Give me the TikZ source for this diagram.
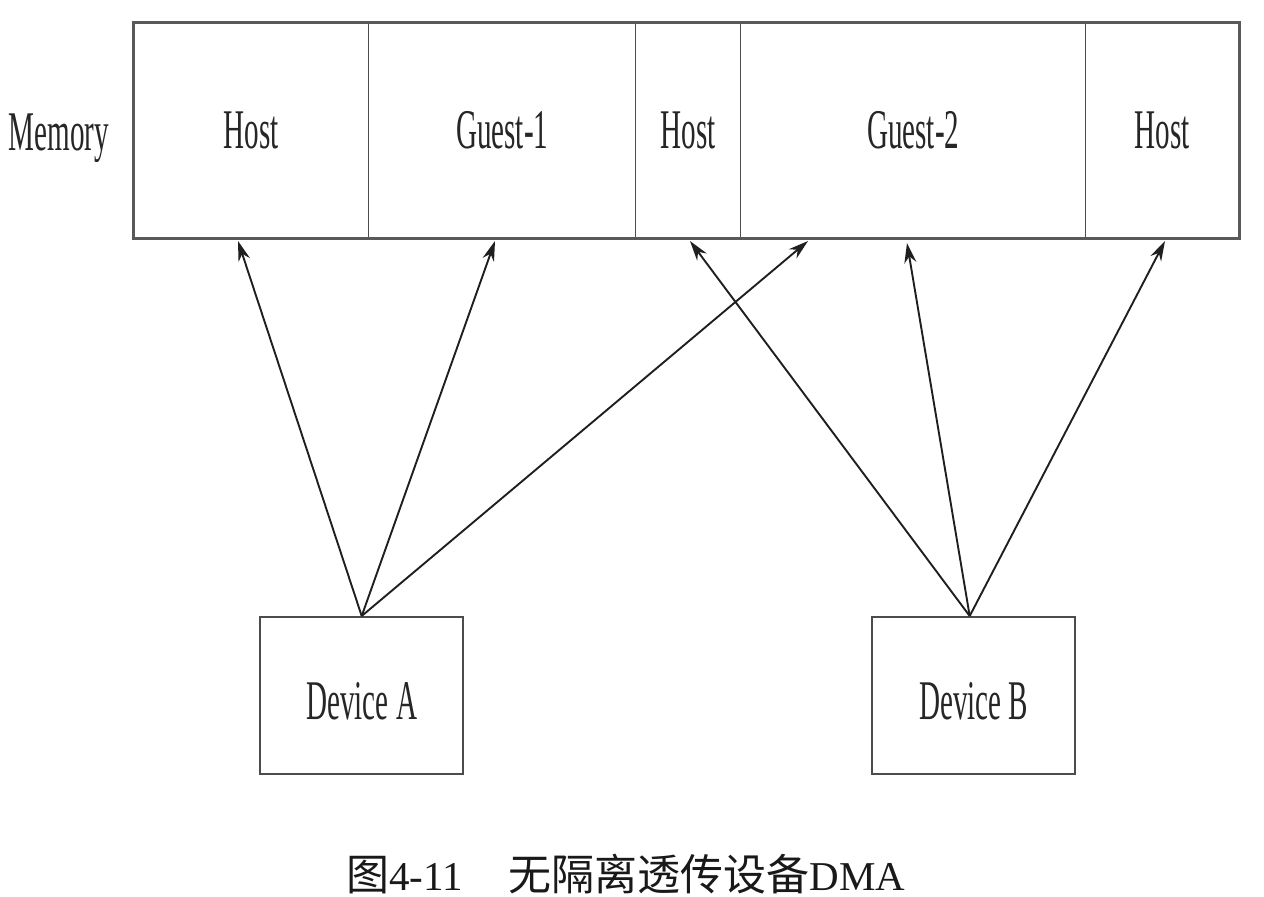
\documentclass[tikz,border=0pt]{standalone}
\usepackage{fontspec}
\setmainfont{Liberation Serif}
\newfontfamily\cjk{Noto Sans CJK SC}
\usetikzlibrary{arrows.meta,calc}
\newcommand{\narrow}[1]{\scalebox{0.52}[1]{#1}}
\newcommand{\cjkt}[1]{{\cjk\fontsize{43}{45}\selectfont #1}}
\tikzset{
  cell/.style={draw=black!70, line width=1.4pt, minimum height=215pt, inner sep=0pt, anchor=north west,
               font=\fontsize{56}{60}\selectfont, text=black!85},
  lbl/.style={font=\fontsize{56}{60}\selectfont, text=black!85, inner sep=0pt},
  device/.style={draw=black!70, line width=2.4pt, minimum width=203pt, minimum height=157pt, inner sep=0pt, anchor=north west,
               font=\fontsize{56}{60}\selectfont, text=black!85, text height=38pt, text depth=0pt},
  dma/.style={-{Stealth[length=20pt,width=12pt]}, line width=1.9pt, draw=black!88},
}
\begin{document}
\begin{tikzpicture}[x=1pt,y=-1pt]
\useasboundingbox (0,0) rectangle (1264,897);
% memory cells
\node[cell, minimum width=235pt] (h1) at (133,22) {\narrow{Host}};
\node[cell, minimum width=267pt] (g1) at (368,22) {\narrow{Guest-1}};
\node[cell, minimum width=105pt] (h2) at (635,22) {\narrow{Host}};
\node[cell, minimum width=345pt] (g2) at (740,22) {\narrow{Guest-2}};
\node[cell, minimum width=153pt] (h3) at (1085,22) {\narrow{Host}};
\draw[draw=black!65, line width=3pt] (h1.north west) rectangle (h3.south east);
\node[lbl, anchor=base] (mem) at (59,150) {\narrow{Memory}};
% devices
\node[device] (devA) at (259,616) {\raisebox{-5pt}{\narrow{Device A}}};
\node[device] (devB) at (871,616) {\raisebox{-5pt}{\narrow{Device B}}};
% arrow tips
\coordinate (tA1) at (238,241);
\coordinate (tA2) at (495,241);
\coordinate (tA3) at (808,241);
\coordinate (tB1) at (690,241);
\coordinate (tB2) at (907,243);
\coordinate (tB3) at (1165,241);
\coordinate (oB) at ([xshift=-4pt]devB.north);
\draw[dma] (devA.north) -- (tA1);
\draw[dma] (devA.north) -- (tA2);
\draw[dma] (devA.north) -- (tA3);
\draw[dma] (oB) -- (tB1);
\draw[dma] (oB) -- (tB2);
\draw[dma] (oB) -- (tB3);
% caption
\node[anchor=base west, inner sep=0pt, font=\fontsize{41}{45}\selectfont, text=black!90] (cap) at (346,890)
  {\cjkt{图}4-11\hspace{46pt}\cjkt{无隔离透传设备}DMA};
\end{tikzpicture}
\end{document}
